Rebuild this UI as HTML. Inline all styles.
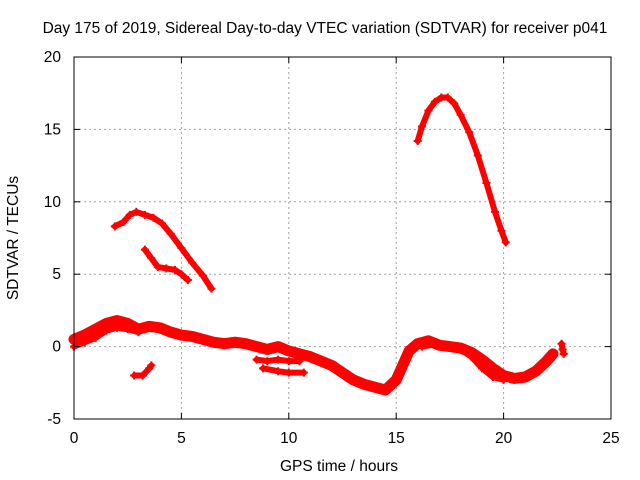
<!DOCTYPE html>
<html><head><meta charset="utf-8"><style>
body{margin:0;background:#fff}
svg{display:block;font-family:"Liberation Sans",sans-serif;font-size:15.5px}
</style></head><body>
<svg id="chart" width="640" height="480">
<text x="325" y="33" text-anchor="middle">Day 175 of 2019, Sidereal Day-to-day VTEC variation (SDTVAR) for receiver p041</text>
<text x="339" y="471" text-anchor="middle">GPS time / hours</text>
<text x="0" y="0" transform="translate(18,238) rotate(-90)" text-anchor="middle">SDTVAR / TECUs</text>
<g id="grid"></g><g id="marks"></g>
<rect x="74" y="57" width="537" height="362" fill="none" stroke="#000"/>
<g id="ticks"></g>
</svg>
<script>
const xTicks=[0,5,10,15,20,25];
const yTicks=[-5,0,5,10,15,20];
const seriesHigh=[[16.0,14.2],[16.2,15.2],[16.5,16.3],[16.8,16.9],[17.1,17.2],[17.4,17.2],[17.7,16.8],[18.0,16.0],[18.4,14.8],[18.8,13.2],[19.2,11.3],[19.6,9.3],[19.9,8.0],[20.1,7.2]];
const seriesMid=[[1.9,8.3],[2.3,8.6],[2.6,9.1],[2.9,9.3],[3.3,9.1],[3.7,8.9],[4.1,8.5],[4.5,7.8],[5.0,6.8],[5.5,5.8],[6.0,4.9],[6.4,4.0]];
const seriesMid2=[[3.3,6.7],[3.6,6.1],[3.9,5.5],[4.3,5.4],[4.7,5.3],[5.0,5.0],[5.3,4.6]];
const seriesSmall=[[2.8,-2.0],[3.2,-2.0],[3.5,-1.5],[3.6,-1.3]];
const seriesMain=[[0,0.5],[0.5,0.8],[1,1.2],[1.5,1.6],[2,1.8],[2.5,1.6],[3,1.2],[3.5,1.4],[4,1.3],[4.5,1.0],[5,0.8],[5.5,0.7],[6,0.5],[6.5,0.3],[7,0.2],[7.5,0.3],[8,0.2],[8.5,0.0],[9,-0.2],[9.5,0.0],[10,-0.3],[10.5,-0.5],[11,-0.7],[11.5,-1.0],[12,-1.3],[12.5,-1.8],[13,-2.3],[13.5,-2.6],[14,-2.8],[14.5,-3.0],[15,-2.3],[15.3,-1.3],[15.6,-0.3],[16,0.2],[16.5,0.4],[17,0.1],[17.5,0.0],[18,-0.1],[18.5,-0.4],[19,-0.9],[19.5,-1.5],[20,-2.0],[20.5,-2.2],[21,-2.1],[21.5,-1.7],[22,-1.0],[22.3,-0.5]];
const seriesMainLow=[[0,0.0],[0.5,0.3],[1,0.6],[1.5,1.1],[2,1.3],[2.5,1.2],[3,1.0]];
const seriesLow1=[[8.5,-0.9],[9,-1.0],[9.5,-0.9],[10,-1.0],[10.5,-1.0]];
const seriesLow2=[[8.8,-1.5],[9.5,-1.7],[10,-1.8],[10.7,-1.8]];
const seriesLow3=[[16.2,0.0],[17,0.2],[17.8,0.0],[18.5,-0.7],[19,-1.5],[19.5,-2.1],[20,-2.3]];
const seriesTail=[[22.7,0.2],[22.75,-0.2],[22.8,-0.5]];
const allSeries=[seriesHigh,seriesMid,seriesMid2,seriesSmall,seriesMain,seriesMainLow,seriesLow1,seriesLow2,seriesLow3,seriesTail];
const X=v=>74+v*537/25, Y=v=>419-(v+5)*362/25;
const NS='http://www.w3.org/2000/svg';
const grid=document.getElementById('grid'),ticks=document.getElementById('ticks'),marks=document.getElementById('marks');
function mk(t,a,p){const e=document.createElementNS(NS,t);for(const k in a)e.setAttribute(k,a[k]);p.appendChild(e);return e;}
xTicks.forEach(t=>{const x=X(t);
 if(t>0&&t<25){const g=mk('line',{x1:x,x2:x,y1:57,y2:419,stroke:'#a0a0a0','stroke-dasharray':'2,3'},grid);
 
 }
 mk('line',{x1:x,x2:x,y1:419,y2:413,stroke:'#000'},ticks);mk('line',{x1:x,x2:x,y1:57,y2:63,stroke:'#000'},ticks);
 const l=mk('text',{x:x,y:443,'text-anchor':'middle'},ticks);l.textContent=t;
 
 });
yTicks.forEach(t=>{const y=Y(t);
 if(t>-5&&t<20){const g=mk('line',{x1:74,x2:611,y1:y,y2:y,stroke:'#a0a0a0','stroke-dasharray':'2,3'},grid);
 
 }
 mk('line',{x1:74,x2:80,y1:y,y2:y,stroke:'#000'},ticks);mk('line',{x1:611,x2:605,y1:y,y2:y,stroke:'#000'},ticks);
 const l=mk('text',{x:61,y:y+5,'text-anchor':'end'},ticks);l.textContent=t;
 
 });
allSeries.forEach((s,i)=>{
 const w=(s===seriesMain)?11:6;
 const p=mk('polyline',{points:s.map(d=>X(d[0])+','+Y(d[1])).join(' '),fill:'none',stroke:'#f00','stroke-width':w,'stroke-linejoin':'round','stroke-linecap':'round'},marks);
 
 
 s.forEach(d=>{const x=X(d[0]),y=Y(d[1]);
  const m=mk('path',{d:`M${x-4},${y}H${x+4}M${x},${y-4}V${y+4}`,stroke:'#f00','stroke-width':2},marks);
  
  });
});
</script>
</body></html>
